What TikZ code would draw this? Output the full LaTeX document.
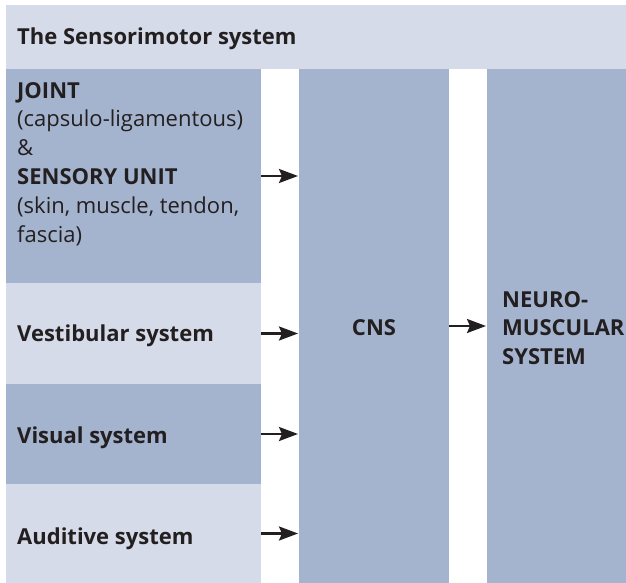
\documentclass[tikz,border=0pt]{standalone}
\usepackage{fontspec}
\setmainfont{Open Sans}
\usepackage{tikz}
\usetikzlibrary{arrows.meta, positioning}
\definecolor{boxlight}{RGB}{213,219,232}
\definecolor{boxdark}{RGB}{164,180,206}
\definecolor{inkdark}{RGB}{35,31,32}
\newcommand{\panelsize}{\fontsize{22}{28.8}\selectfont}

\tikzset{
  panel/.style={fill=#1, draw=none, anchor=north west, inner sep=0pt, outer sep=0pt},
  caption/.style={anchor=base west, inner sep=0pt, font=\panelsize\bfseries},
  feed/.style={line width=2.4pt, draw=inkdark, shorten >=1pt,
    -{Stealth[length=19pt, width=14pt, inset=3pt]}}
}

\begin{document}
\begin{tikzpicture}[x=1pt, y=-1pt, font=\panelsize, text=inkdark]
  \useasboundingbox (0,0) rectangle (626,583);

  % header bar
  \node[panel=boxlight, minimum width=620pt, minimum height=64pt] (head) at (6,5) {};
  \node[caption] (headtxt) at (17,45) {The Sensorimotor system};

  % receptor column
  \node[panel=boxdark, minimum width=255pt, minimum height=214pt] (joint) at (6,69) {};
  \node[panel=boxlight, minimum width=255pt, minimum height=101pt] (vest) at (6,283) {};
  \node[panel=boxdark, minimum width=255pt, minimum height=100pt] (visual) at (6,384) {};
  \node[panel=boxlight, minimum width=255pt, minimum height=99pt] (audit) at (6,484) {};

  \node[anchor=north west, inner sep=0pt, align=left] (jointtxt) at (17,82)
    {\textbf{JOINT}\\(capsulo-ligamentous)\\\&\\\textbf{SENSORY UNIT}\\(skin, muscle, tendon,\\fascia)};
  \node[caption] (vesttxt) at (17,341.5) {Vestibular system};
  \node[caption] (visualtxt) at (17,443) {Visual system};
  \node[caption] (audittxt) at (17,544) {Auditive system};

  % central and motor columns
  \node[panel=boxdark, minimum width=150pt, minimum height=514pt] (cns) at (299,69) {};
  \node[panel=boxdark, minimum width=139pt, minimum height=514pt] (neuro) at (487,69) {};
  \node[font=\panelsize\bfseries] (cnstxt) at ([yshift=-2pt]cns.center) {CNS};
  \node[anchor=west, inner sep=0pt, align=left, font=\panelsize\bfseries] (neurotxt)
    at ([xshift=15pt, yshift=-2pt]neuro.west) {NEURO-\\MUSCULAR\\SYSTEM};

  % inputs
  \draw[feed] (joint.east) -- (cns.west |- joint.east);
  \draw[feed] (vest.east) -- (cns.west |- vest.east);
  \draw[feed] (visual.east) -- (cns.west |- visual.east);
  \draw[feed] (audit.east) -- (cns.west |- audit.east);

  % output
  \draw[feed] (cns.east) -- (neuro.west);
\end{tikzpicture}
\end{document}
